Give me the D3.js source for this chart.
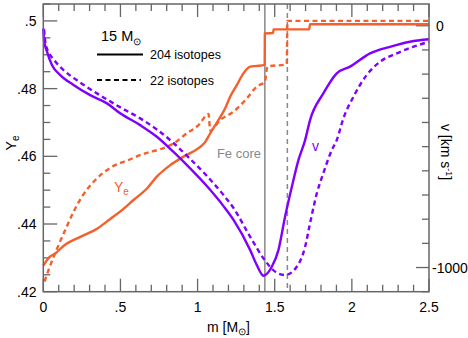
<!DOCTYPE html>
<html><head><meta charset="utf-8">
<script src="https://cdn.jsdelivr.net/npm/d3@7"></script>
<style>body{margin:0;background:#fff}svg{display:block;font-family:"Liberation Sans",Arial,sans-serif}</style>
</head><body><svg id="c" width="468" height="338"></svg>
<script>
// Mass coordinate m [Msun], electron fraction Ye, velocity v [km/s]
const yeSolidM = [0.00,0.041,0.078,0.131,0.240,0.348,0.434,0.510,0.585,0.672,0.736,0.823,0.909,1.006,1.049,1.082,1.135,1.179,1.211,1.255,1.297,1.341,1.384,1.435,1.436,1.490,1.492,1.723,1.729,2.5];
const yeSolid  = [0.4277,0.4303,0.4313,0.4335,0.4362,0.4386,0.4415,0.4441,0.4471,0.4505,0.4540,0.4574,0.4599,0.4624,0.4642,0.4668,0.4707,0.4742,0.4776,0.4811,0.4845,0.4865,0.4867,0.4870,0.4963,0.4964,0.4975,0.4975,0.4990,0.4990];
const yeDashM  = [0.008,0.034,0.067,0.099,0.142,0.196,0.251,0.337,0.445,0.552,0.661,0.758,0.844,0.931,1.006,1.071,1.082,1.146,1.233,1.319,1.384,1.436,1.453,1.578,1.582,2.5];
const yeDash   = [0.4230,0.4264,0.4303,0.4338,0.4382,0.4436,0.4481,0.4530,0.4569,0.4589,0.4609,0.4621,0.4638,0.4668,0.4692,0.4725,0.4676,0.4707,0.4732,0.4771,0.4806,0.4820,0.4865,0.4872,0.5000,0.5000];
const vSolidM  = [0.000,0.005,0.024,0.056,0.110,0.196,0.304,0.413,0.498,0.628,0.736,0.844,0.952,1.060,1.168,1.233,1.341,1.384,1.427,1.481,1.524,1.567,1.611,1.654,1.697,1.729,1.815,1.902,1.988,2.118,2.247,2.377,2.5];
const vSolid   = [-11,-60,-107,-162,-204,-245,-287,-321,-362,-411,-459,-522,-590,-663,-746,-803,-928,-990,-1034,-997,-928,-790,-666,-555,-473,-390,-280,-197,-169,-114,-87,-66,-56];
const vDashM   = [0.005,0.015,0.035,0.070,0.131,0.240,0.413,0.520,0.628,0.736,0.844,0.952,1.060,1.168,1.233,1.341,1.427,1.503,1.567,1.643,1.697,1.729,1.773,1.815,1.870,1.902,1.945,2.010,2.096,2.183,2.291,2.398,2.5];
const vDash    = [-15,-75,-110,-142,-183,-235,-305,-345,-383,-429,-485,-551,-621,-700,-754,-873,-962,-1017,-1031,-997,-914,-817,-693,-610,-514,-473,-383,-294,-204,-149,-114,-87,-66];
const feCoreSolid = 1.436, feCoreDash = 1.582;
const xTicks = [0,0.5,1,1.5,2,2.5], xTickLabels = ["0",".5","1","1.5","2","2.5"];
const yTicks = [0.42,0.44,0.46,0.48,0.50], yTickLabels = [".42",".44",".46",".48",".5"];
const vTicks = [0,-1000], vTickLabels = ["0","-1000"];

const L=43.3,R=429,T=4,B=291.7;
const orange="#f4602c", purple="#7f00ff", frame="#666";
const svg=d3.select("#c");
const x=d3.scaleLinear().domain([0,2.5]).range([L,R]);
const y=d3.scaleLinear().domain([0.42,0.505]).range([B,T]);
const yv=d3.scaleLinear().domain([-1100,90]).range([B,T]);

const g=svg.append("g");
// minor/major ticks
const tickG=g.append("g").attr("stroke",frame).attr("stroke-width",1.3);
d3.range(0,2.5001,0.1).forEach(m=>{
  const major=Math.abs(m*2-Math.round(m*2))<1e-6, len=major?13:7;
  tickG.append("line").attr("x1",x(m)).attr("x2",x(m)).attr("y1",B).attr("y2",B-len);
  tickG.append("line").attr("x1",x(m)).attr("x2",x(m)).attr("y1",T).attr("y2",T+len);
});
d3.range(0.42,0.5051,0.005).forEach(v=>{
  const major=yTicks.some(t=>Math.abs(t-v)<1e-6), len=major?14:7;
  tickG.append("line").attr("x1",L).attr("x2",L+len).attr("y1",y(v)).attr("y2",y(v));
});
d3.range(-1100,90,100).forEach(v=>{
  const len=vTicks.includes(v)?13:7;
  tickG.append("line").attr("x1",R).attr("x2",R-len).attr("y1",yv(v)).attr("y2",yv(v));
});
// tick labels
const lab=g.append("g").attr("font-size",14).attr("fill","#000");
xTicks.forEach((t,i)=>lab.append("text").attr("x",x(t)).attr("y",311.5).attr("text-anchor","middle").text(xTickLabels[i]));
yTicks.forEach((t,i)=>lab.append("text").attr("x",36.5).attr("y",y(t)+5).attr("text-anchor","end").text(yTickLabels[i]));
vTicks.forEach((t,i)=>lab.append("text").attr("x",i?432:436).attr("y",yv(t)+5).attr("text-anchor","start").text(vTickLabels[i]));

// Fe core lines
g.append("line").attr("x1",x(feCoreSolid)).attr("x2",x(feCoreSolid)).attr("y1",T).attr("y2",B).attr("stroke","#888").attr("stroke-width",1.5);
g.append("line").attr("x1",x(feCoreDash)).attr("x2",x(feCoreDash)).attr("y1",T).attr("y2",B).attr("stroke","#888").attr("stroke-width",1.5).attr("stroke-dasharray","5,4");
g.append("text").attr("x",261).attr("y",158).attr("text-anchor","end").attr("font-size",13).attr("fill","#888").text("Fe core");

// curves
const mk=(ms,vs)=>ms.map((m,i)=>[m,vs[i]]);
const lineY=d3.line().x(d=>x(d[0])).y(d=>y(d[1])).curve(d3.curveMonotoneX);
const lineV=d3.line().x(d=>x(d[0])).y(d=>yv(d[1])).curve(d3.curveMonotoneX);
const cg=g.append("g").attr("fill","none").attr("stroke-width",2.4).attr("stroke-linejoin","round");
cg.append("path").attr("d",lineY(mk(yeDashM,yeDash))).attr("stroke",orange).attr("stroke-dasharray","5,3.5");
cg.append("path").attr("d",lineY(mk(yeSolidM,yeSolid))).attr("stroke",orange);
cg.append("path").attr("d",lineV(mk(vDashM,vDash))).attr("stroke",purple).attr("stroke-dasharray","5,3.5");
cg.append("path").attr("d",lineV(mk(vSolidM,vSolid))).attr("stroke",purple);

// frame
g.append("rect").attr("x",L).attr("y",T).attr("width",R-L).attr("height",B-T).attr("fill","none").attr("stroke",frame).attr("stroke-width",1.5);

// curve labels
const ye=g.append("text").attr("x",114).attr("y",192).attr("font-size",14).attr("fill",orange);
ye.append("tspan").text("Y");
ye.append("tspan").attr("font-size",10).attr("dy",3).text("e");
g.append("text").attr("x",312).attr("y",151).attr("font-size",14).attr("fill",purple).text("v");

// legend
const t15=g.append("text").attr("x",101).attr("y",41).attr("font-size",14.5);
t15.append("tspan").text("15 M");
t15.append("tspan").attr("font-size",10).attr("dy",4).text("⊙");
g.append("line").attr("x1",97).attr("x2",143).attr("y1",54.5).attr("y2",54.5).attr("stroke","#000").attr("stroke-width",2);
g.append("text").attr("x",150).attr("y",59).attr("font-size",12.5).text("204 isotopes");
g.append("line").attr("x1",97).attr("x2",141).attr("y1",80).attr("y2",80).attr("stroke","#000").attr("stroke-width",2).attr("stroke-dasharray","5,3.5");
g.append("text").attr("x",150).attr("y",84.5).attr("font-size",12.5).text("22 isotopes");

// axis titles
const xl=g.append("text").attr("x",207).attr("y",332).attr("font-size",14);
xl.append("tspan").text("m [M");
xl.append("tspan").attr("font-size",10).attr("dy",3).text("⊙");
xl.append("tspan").attr("dy",-3).text("]");
const yl=g.append("text").attr("transform","translate(16,143) rotate(-90)").attr("text-anchor","middle").attr("font-size",14);
yl.append("tspan").text("Y");
yl.append("tspan").attr("font-size",10).attr("dy",3).text("e");
const vl=g.append("text").attr("transform","translate(441,152) rotate(90)").attr("text-anchor","middle").attr("font-size",14);
vl.append("tspan").text("v [km s");
vl.append("tspan").attr("font-size",9).attr("dy",-5).text("-1");
vl.append("tspan").attr("dy",5).text("]");
</script></body></html>
